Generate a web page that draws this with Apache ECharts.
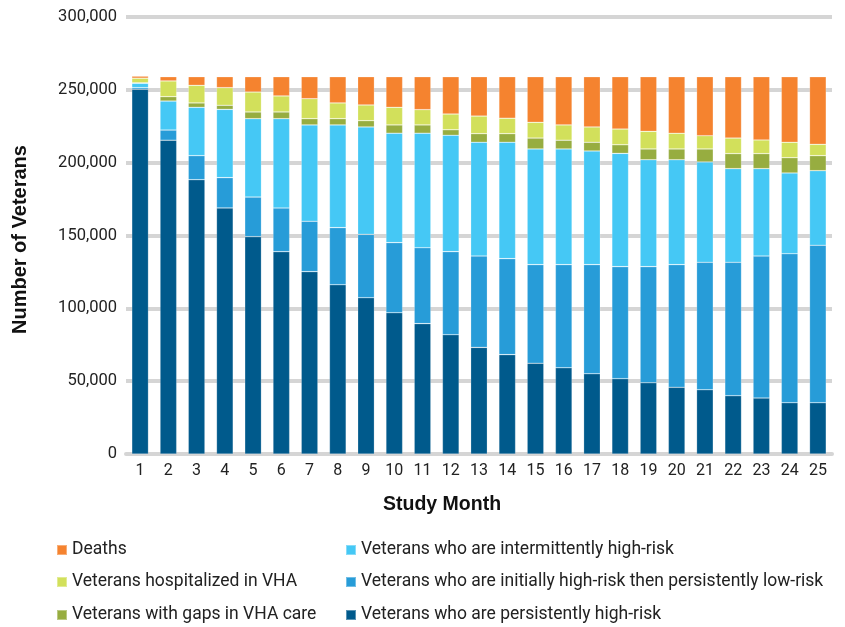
<!DOCTYPE html>
<html>
<head>
<meta charset="utf-8">
<script src="https://cdn.jsdelivr.net/npm/echarts@6/dist/echarts.min.js"></script>
<style>
html,body{margin:0;padding:0;background:#fff;}
#chart{width:845px;height:627px;}
</style>
</head>
<body>
<div id="chart"></div>
<script>
var months = ['1','2','3','4','5','6','7','8','9','10','11','12','13','14','15','16','17','18','19','20','21','22','23','24','25'];
var persistentHigh = [250400, 215400, 188300, 168900, 149200, 138900, 125200, 116200, 107300, 97000, 89500, 81900, 73200, 68200, 62300, 59200, 55100, 51700, 48900, 45800, 44100, 40000, 38400, 35200, 35200];
var initiallyHigh = [1100, 7000, 16500, 20800, 27200, 30000, 34600, 39200, 43500, 48100, 52100, 57000, 62700, 65900, 67700, 70800, 74900, 76900, 79700, 84200, 87500, 91600, 97500, 102300, 108100];
var intermittent = [3000, 19900, 33200, 46900, 53800, 61300, 66100, 70500, 73700, 75100, 78600, 79900, 78100, 79900, 79400, 79400, 78000, 77800, 73400, 72000, 68900, 64300, 60000, 55400, 51200];
var gapsCare = [300, 3000, 3000, 2800, 4600, 4600, 4300, 4300, 4300, 5700, 5700, 3800, 5900, 5900, 7500, 6000, 6000, 5900, 7400, 7400, 8900, 10300, 10300, 10500, 10300];
var hospitalized = [3200, 10800, 12100, 12100, 13700, 11000, 13700, 10800, 10800, 12100, 10500, 10800, 12100, 10600, 10800, 10500, 10500, 10800, 12100, 10800, 9100, 10700, 9400, 10600, 7800];
var deaths = [1400, 2900, 5900, 7500, 10500, 13200, 15100, 18000, 19400, 21000, 22600, 25600, 27000, 28500, 31300, 33100, 34500, 35900, 37500, 38800, 40500, 42100, 43400, 45000, 46400];

var names = {
  deaths: 'Deaths',
  hosp: 'Veterans hospitalized in VHA',
  gaps: 'Veterans with gaps in VHA care',
  inter: 'Veterans who are intermittently high-risk',
  init: 'Veterans who are initially high-risk then persistently low-risk',
  pers: 'Veterans who are persistently high-risk'
};
var legendCol1 = [names.deaths, names.hosp, names.gaps];
var legendCol2 = [names.inter, names.init, names.pers];

var chart = echarts.init(document.getElementById('chart'), null, {renderer: 'canvas'});
function mk(name, data, color) {
  return {
    name: name, type: 'bar', stack: 'total', data: data,
    barCategoryGap: '41%',
    itemStyle: {color: color, borderColor: 'rgba(255,255,255,0.35)', borderWidth: 0.6},
    emphasis: {disabled: true}
  };
}
var legendText = {fontFamily: 'Roboto', fontSize: 17.5, color: '#222'};
var rowTops = [541, 573, 606];
var legends = [];
legendCol1.forEach(function (n, i) {
  legends.push({left: 56, top: rowTops[i], padding: 0, itemWidth: 10, itemHeight: 10, icon: 'rect', textStyle: legendText, data: [n]});
});
legendCol2.forEach(function (n, i) {
  legends.push({left: 345, top: rowTops[i], padding: 0, itemWidth: 10, itemHeight: 10, icon: 'rect', textStyle: legendText, data: [n]});
});
chart.setOption({
  animation: false,
  grid: {left: 126, right: 13, top: 17, bottom: 173, containLabel: false},
  xAxis: {
    type: 'category', data: months,
    axisLine: {lineStyle: {color: '#d5d5d5', width: 4}},
    axisTick: {show: false},
    axisLabel: {fontFamily: 'Roboto', fontSize: 16, color: '#222', margin: 9}
  },
  yAxis: {
    type: 'value', min: 0, max: 300000, interval: 50000,
    axisLine: {show: false}, axisTick: {show: false},
    splitLine: {lineStyle: {color: '#d5d5d5', width: 4}},
    axisLabel: {
      fontFamily: 'Roboto', fontSize: 16.5, color: '#222', margin: 9,
      formatter: function (v) { return v.toLocaleString('en-US'); }
    }
  },
  legend: legends,
  graphic: [
    {
      type: 'text', left: 383, top: 495,
      style: {text: 'Study Month', fontFamily: 'Liberation Sans', fontWeight: 'bold', fontSize: 19.5, fill: '#111'}
    },
    {
      type: 'text', x: 10, y: 334, rotation: Math.PI / 2,
      style: {text: 'Number of Veterans', fontFamily: 'Liberation Sans', fontWeight: 'bold', fontSize: 20, fill: '#111'}
    }
  ],
  series: [
    mk(names.pers, persistentHigh, '#005A8C'),
    mk(names.init, initiallyHigh, '#279CD8'),
    mk(names.inter, intermittent, '#45C8F5'),
    mk(names.gaps, gapsCare, '#97AD40'),
    mk(names.hosp, hospitalized, '#D2E05B'),
    mk(names.deaths, deaths, '#F5832F')
  ]
});
</script>
</body>
</html>
